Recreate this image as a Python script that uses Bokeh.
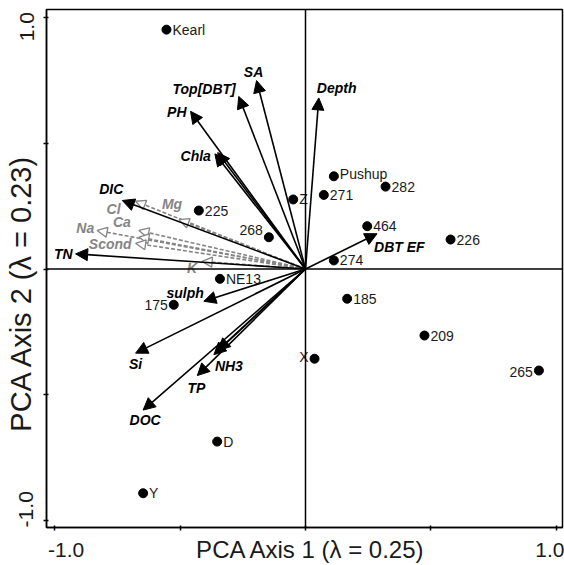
import math
from bokeh.plotting import figure
from bokeh.models import Arrow, NormalHead, ColumnDataSource, Span, FixedTicker, Range1d
from bokeh.core.properties import value
from bokeh.embed import file_html
from bokeh.resources import INLINE

# ---- site scores (PCA axis 1, axis 2) ----
site_names = ["Kearl", "Pushup", "271", "282", "Z", "464", "226", "274", "225",
              "268", "NE13", "175", "X", "185", "209", "265", "D", "Y"]
site_x = [-0.554, 0.113, 0.073, 0.319, -0.049, 0.246, 0.578, 0.113, -0.425,
          -0.146, -0.341, -0.525, 0.036, 0.166, 0.474, 0.930, -0.352, -0.647]
site_y = [0.950, 0.368, 0.294, 0.327, 0.276, 0.170, 0.117, 0.034, 0.232,
          0.126, -0.039, -0.142, -0.356, -0.118, -0.264, -0.403, -0.685, -0.890]

# ---- environmental variables, solid arrows ----
var_names = ["Depth", "SA", "Top[DBT]", "PH", "Chla", "", "DIC", "TN", "DBT EF",
             "sulph", "Si", "NH3", "", "TP", "DOC"]
var_x = [0.053, -0.195, -0.266, -0.458, -0.361, -0.350, -0.730, -0.916, 0.285,
         -0.405, -0.677, -0.365, -0.349, -0.431, -0.647]
var_y = [0.679, 0.748, 0.685, 0.626, 0.457, 0.462, 0.272, 0.060, 0.140,
         -0.128, -0.334, -0.340, -0.323, -0.423, -0.560]

# ---- ions, dashed grey arrows ----
ion_names = ["Cl", "Mg", "Na", "Ca", "", "Scond", "K"]
ion_x = [-0.677, -0.504, -0.830, -0.664, -0.664, -0.677, -0.412]
ion_y = [0.269, 0.196, 0.153, 0.153, 0.127, 0.102, 0.030]

# ---- axes ----
x_ticks = [-1.0, -0.5, 0.0, 0.5, 1.0]
y_ticks = [-1.0, -0.5, 0.0, 0.5, 1.0]
x_title = "PCA Axis 1 (\u03bb = 0.25)"
y_title = "PCA Axis 2 (\u03bb = 0.23)"

# ---- label placement (pixels, layout only) ----
site_dx = [6, 6, 6, 6, 6, 6, 6, 6, 6, -6, 6, -6, -6, 6, 6, -6, 6, 6]
site_dy = [0, -2, 0, 0, 0, 0, 0, 0, 0, -7, 0, 0, -2, 0, 0, 1, 0, 0]
var_dx = [-2, -3, -3, -4, -4, 0, 1, -3, -3, 0, 0, 1, 0, -1, 2]
var_dy = [-10, -9, -7, 1, 2, 0, -11, 0, 13, -8, 11, 11, 0, 12, 10]
var_al = ["left", "center", "right", "right", "right", "center", "right", "right",
          "left", "right", "center", "left", "center", "center", "center"]
ion_dx = [-15, -7, -3, -8, 0, -4, -10]
ion_dy = [8, -16, -2, -8, 0, 1, 7]
ion_al = ["right", "center", "right", "right", "center", "right", "center"]

FONT = "Liberation Sans"
GREY = "#858585"
NB = "\u00a0"

p = figure(width=564, height=565, output_backend="svg", toolbar_location=None,
           x_range=Range1d(-1.032, 1.024), y_range=Range1d(-1.026, 1.030),
           min_border_left=46, min_border_right=2, min_border_top=9,
           min_border_bottom=38)
p.xgrid.visible = False
p.ygrid.visible = False
p.outline_line_color = "black"
p.outline_line_width = 1.5
p.background_fill_color = "white"
p.border_fill_color = "white"

p.xaxis.ticker = FixedTicker(ticks=x_ticks)
p.yaxis.ticker = FixedTicker(ticks=y_ticks)
p.xaxis.major_label_overrides = {-1.0: NB * 4 + "-1.0", -0.5: "", 0.0: "", 0.5: "", 1.0: "1.0"}
p.yaxis.major_label_overrides = {-1.0: NB * 4 + "-1.0", -0.5: "", 0.0: "", 0.5: "", 1.0: "1.0" + NB * 2}
p.yaxis.major_label_orientation = "parallel"
for ax in (p.xaxis, p.yaxis):
    ax.axis_line_width = 1.5
    ax.major_tick_line_width = 1.5
    ax.major_tick_in = 2
    ax.major_tick_out = 3
    ax.minor_tick_line_color = None
    ax.major_label_text_font = FONT
    ax.major_label_text_font_size = "21px"
    ax.major_label_text_color = "#1a1a1a"
    ax.axis_label_text_font = FONT
    ax.axis_label_text_font_style = "normal"
    ax.axis_label_text_color = "#1a1a1a"
p.xaxis.axis_label_text_font_size = "24px"
p.yaxis.axis_label_text_font_size = "29px"
p.xaxis.axis_label = NB * 2 + x_title
p.yaxis.axis_label = y_title + NB * 6
p.xaxis.major_label_standoff = 7
p.yaxis.major_label_standoff = 6
p.xaxis.axis_label_standoff = -28
p.yaxis.axis_label_standoff = -25

# zero lines
p.add_layout(Span(location=0, dimension="height", line_color="black", line_width=1.5))
p.add_layout(Span(location=0, dimension="width", line_color="black", line_width=1.5))

# ion arrows (dashed grey, open heads)
ion_src = ColumnDataSource(dict(x0=[0.0] * len(ion_x), y0=[0.0] * len(ion_y), x=ion_x, y=ion_y))
p.add_layout(Arrow(end=NormalHead(size=10, fill_color="white", line_color=GREY, line_width=1.3),
                   x_start="x0", y_start="y0", x_end="x", y_end="y", source=ion_src,
                   line_color=GREY, line_width=1.6, line_dash="4 2"))

# variable arrows (solid black, filled heads)
var_src = ColumnDataSource(dict(x0=[0.0] * len(var_x), y0=[0.0] * len(var_y), x=var_x, y=var_y))
p.add_layout(Arrow(end=NormalHead(size=12, fill_color="black", line_color="black", line_width=1),
                   x_start="x0", y_start="y0", x_end="x", y_end="y", source=var_src,
                   line_color="black", line_width=1.6))

# sites
p.scatter(site_x, site_y, size=9, color="black")

def add_labels(xs, ys, names, dxs, dys, aligns, color, style):
    for al in ("left", "right", "center"):
        idx = [i for i in range(len(names)) if aligns[i] == al and names[i]]
        if not idx:
            continue
        src = ColumnDataSource(dict(x=[xs[i] for i in idx], y=[ys[i] for i in idx],
                                    t=[names[i] for i in idx],
                                    dx=[dxs[i] for i in idx], dy=[dys[i] for i in idx]))
        p.text(x="x", y="y", text="t", source=src, x_offset="dx", y_offset="dy",
               text_align=al, text_baseline="middle", text_font=value(FONT),
               text_font_size="14px", text_font_style=style, text_color=color)

site_al = ["left" if d > 0 else "right" for d in site_dx]
add_labels(site_x, site_y, site_names, site_dx, site_dy, site_al, "#1a1a1a", "normal")
add_labels(var_x, var_y, var_names, var_dx, var_dy, var_al, "black", "bold italic")
add_labels(ion_x, ion_y, ion_names, ion_dx, ion_dy, ion_al, GREY, "bold italic")

open("out.html", "w").write(file_html(p, INLINE))
